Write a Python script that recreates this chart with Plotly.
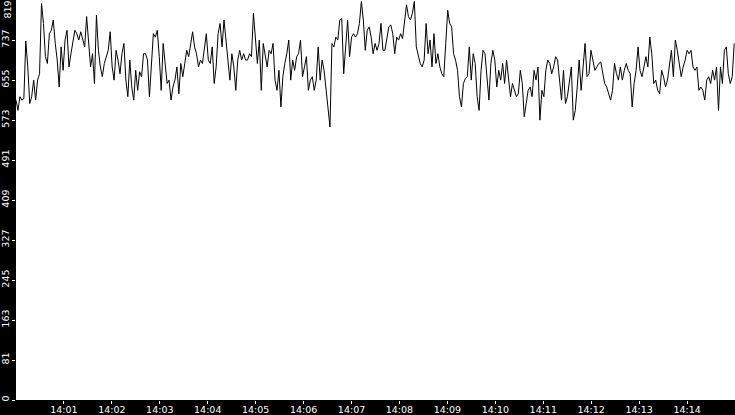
import pandas as pd
import plotly.graph_objects as go

# readings from the trace, roughly one every 2.5 s, 14:00:00 -> 14:15:00
seg1 = [614, 593, 621, 614, 617, 735, 682, 607, 621, 655, 614, 655, 668, 812, 771, 703,
        689, 750, 757, 778, 730, 696, 641, 723, 675, 737, 757, 682, 709, 730, 757, 750,
        737, 754, 737, 723, 785, 723, 682, 709, 648, 788, 716, 682, 662, 689]
seg2 = [703, 716, 754, 682, 655, 716, 696, 668, 709, 730, 655, 621, 696, 641, 614, 675,
        634, 672, 662, 709, 709, 696, 621, 696, 750, 743, 757, 703, 634, 730, 682, 648,
        655, 614, 641, 655, 682, 627, 689, 662, 689, 716, 703, 730, 754]
seg3 = [723, 709, 682, 696, 689, 716, 750, 696, 689, 723, 648, 682, 750, 771, 723, 778,
        730, 696, 655, 709, 682, 634, 696, 716, 696, 709, 696, 696, 709, 703, 792, 743,
        689, 737, 634, 730, 709, 682, 716, 709, 730, 655, 634, 675, 600, 662]
seg4 = [689, 709, 737, 655, 696, 675, 703, 709, 737, 662, 682, 703, 634, 655, 662, 634,
        655, 723, 655, 696, 675, 634, 600, 559, 730, 723, 743, 737, 778, 781, 668, 730,
        778, 703, 743, 750, 743, 750, 771, 816, 778, 716, 757, 764, 743, 709, 730]
seg5 = [716, 730, 771, 716, 716, 737, 764, 768, 750, 709, 743, 737, 750, 740, 778, 809,
        785, 778, 792, 816, 723, 703, 689, 682, 696, 771, 709, 737, 682, 750, 689, 709,
        682, 668, 662, 730, 798, 771, 764, 709, 696, 675, 621, 600, 648, 658]
seg6 = [662, 723, 655, 709, 689, 621, 593, 675, 716, 709, 662, 614, 689, 716, 696, 641,
        675, 655, 689, 648, 696, 662, 621, 648, 634, 621, 627, 675, 648, 580, 607, 634,
        641, 621, 675, 655, 682, 573, 634, 621, 675, 696, 689, 668, 682, 703]
seg7 = [696, 648, 614, 675, 607, 621, 655, 682, 573, 593, 641, 696, 634, 682, 730, 662,
        668, 716, 696, 675, 682, 689, 692, 668, 648, 641, 627, 614, 634, 689, 668, 655,
        682, 655, 675, 689, 675, 668, 600, 648, 675, 723, 675, 662, 682, 703]
seg8 = [682, 743, 709, 648, 655, 634, 627, 675, 662, 641, 655, 682, 716, 662, 737, 716,
        689, 662, 682, 696, 716, 709, 716, 682, 675, 682, 634, 641, 634, 614, 655, 662,
        648, 675, 655, 682, 593, 682, 648, 716, 723, 668, 648, 662, 730]

values = seg1 + seg2 + seg3 + seg4 + seg5 + seg6 + seg7 + seg8
times = pd.date_range("2024-01-01 14:00:00", "2024-01-01 14:14:59", periods=len(values))

x_labels = ["14:01", "14:02", "14:03", "14:04", "14:05", "14:06", "14:07",
            "14:08", "14:09", "14:10", "14:11", "14:12", "14:13", "14:14"]
x_ticks = ["2024-01-01 " + t + ":00" for t in x_labels]

y_ticks = [0, 81.9, 163.8, 245.7, 327.6, 409.5, 491.4, 573.3, 655.2, 737.1]
y_labels = ["0", "81", "163", "245", "327", "409", "491", "573", "655", "737"]

font = dict(family="DejaVu Sans", size=9.5, color="white")

fig = go.Figure()
fig.add_trace(go.Scatter(x=times, y=values, mode="lines",
                         line=dict(color="black", width=1), showlegend=False))

fig.update_layout(
    width=735, height=415,
    margin=dict(l=16, r=0, t=0, b=15, autoexpand=False),
    paper_bgcolor="black", plot_bgcolor="white",
    font=font,
)
fig.update_xaxes(
    range=["2024-01-01 14:00:00", "2024-01-01 14:15:00"],
    tickvals=x_ticks, ticktext=x_labels, automargin=False,
    ticks="outside", ticklen=3, tickcolor="white", tickwidth=1,
    showgrid=False, zeroline=False, showline=False, ticklabelstandoff=-2,
)
fig.update_yaxes(
    range=[0, 819], tickvals=y_ticks, ticktext=y_labels, tickangle=-90,
    automargin=False,
    ticks="outside", ticklen=3, tickcolor="white", tickwidth=1,
    showgrid=False, zeroline=False, showline=False, ticklabelstandoff=-1,
)
fig.add_annotation(text="819", xref="paper", yref="paper", x=0, y=1,
                   xanchor="right", yanchor="top", textangle=-90, showarrow=False,
                   xshift=-3, font=font, borderpad=0)

# the page body has a default 8px margin, drop it so the chart fills the window
fig.write_html("out.html", config={"displayModeBar": False},
               post_script="document.body.style.margin='0';")
